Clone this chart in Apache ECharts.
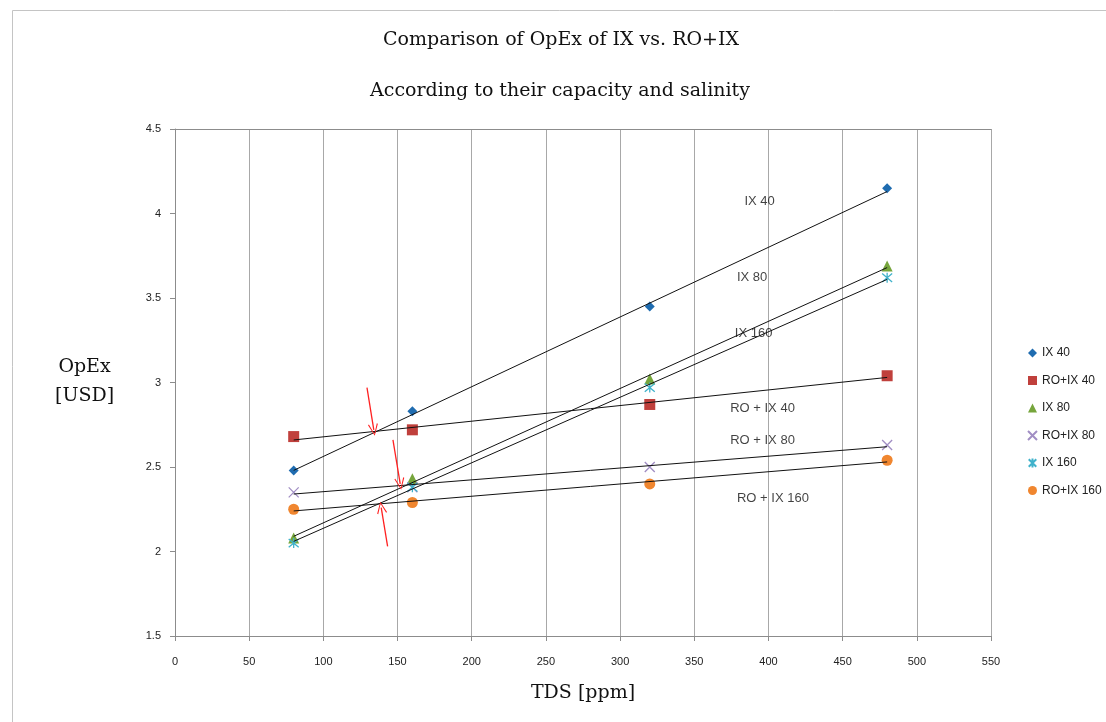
<!DOCTYPE html>
<html>
<head>
<meta charset="utf-8">
<script src="https://cdn.jsdelivr.net/npm/echarts@6/dist/echarts.min.js"></script>
<style>
  html, body { margin: 0; padding: 0; background: #ffffff; }
  #chart { width: 1106px; height: 722px; }
</style>
</head>
<body>
<div id="chart"></div>
<script>
// ---- data ----
const tds = [80, 160, 320, 480];
const ix40    = [2.48, 2.83, 3.45, 4.15];
const roix40  = [2.68, 2.72, 2.87, 3.04];
const ix80    = [2.08, 2.43, 3.02, 3.69];
const roix80  = [2.35, 2.38, 2.50, 2.63];
const ix160   = [2.05, 2.38, 2.97, 3.62];
const roix160 = [2.25, 2.29, 2.40, 2.54];

// trend lines (linear) – start/end values read at x = 80 and x = 480
const trendX = [80, 480];
const trendIx40    = [2.48, 4.13];
const trendRoix40  = [2.66, 3.03];
const trendIx80    = [2.09, 3.68];
const trendRoix80  = [2.34, 2.62];
const trendIx160   = [2.06, 3.61];
const trendRoix160 = [2.24, 2.53];

// in-plot text labels (data coordinates)
const noteText = ['IX 40', 'IX 80', 'IX 160', 'RO + IX 40', 'RO + IX 80', 'RO + IX 160'];
const noteX    = [394, 389, 390, 396, 396, 403];
const noteY    = [4.07, 3.62, 3.29, 2.845, 2.66, 2.317];

// red arrows (data coordinates, start -> end)
const arrowFrom = [[129.4, 2.97], [146.9, 2.66], [143.3, 2.03]];
const arrowTo   = [[134.0, 2.72], [151.8, 2.40], [139.0, 2.26]];

const xTicks = { min: 0, max: 550, interval: 50 };
const yTicks = { min: 1.5, max: 4.5, interval: 0.5 };

const names = ['IX 40', 'RO+IX 40', 'IX 80', 'RO+IX 80', 'IX 160', 'RO+IX 160'];
const values = [ix40, roix40, ix80, roix80, ix160, roix160];
const trends = [trendIx40, trendRoix40, trendIx80, trendRoix80, trendIx160, trendRoix160];

const colors = ['#1f6cb0', '#c0403c', '#76a53c', '#a18ec4', '#40b2cb', '#f0862f'];
const symbols = [
  'diamond', 'rect', 'triangle',
  'path://M0,0L10,10M10,0L0,10',
  'path://M0,0L10,10M10,0L0,10M5,-1L5,11',
  'circle'
];
const sizes = [10, 11, 11, 10, 10, 11];
const strokeOnly = [false, false, false, true, true, false];

const tickFont = { fontFamily: 'Liberation Sans', fontSize: 11, color: '#222' };

const series = [];
names.forEach((n, i) => {
  series.push({
    name: n,
    type: 'scatter',
    symbol: symbols[i],
    symbolSize: sizes[i],
    data: tds.map((x, k) => [x, values[i][k]]),
    itemStyle: strokeOnly[i]
      ? { color: colors[i], borderColor: colors[i], borderWidth: 1.3, opacity: 1 }
      : { color: colors[i], opacity: 1 },
    z: 2
  });
});
trends.forEach((t, i) => {
  series.push({
    name: 'trend ' + names[i],
    type: 'line',
    symbol: 'none',
    silent: true,
    data: trendX.map((x, k) => [x, t[k]]),
    lineStyle: { color: '#111', width: 1 },
    z: 3
  });
});
series.push({
  name: 'notes',
  type: 'scatter',
  symbolSize: 0,
  silent: true,
  data: noteText.map((t, i) => [noteX[i], noteY[i], t]),
  label: {
    show: true,
    position: 'inside',
    formatter: p => p.data[2],
    fontFamily: 'Liberation Sans',
    fontSize: 13,
    color: '#111'
  },
  z: 4
});
series.push({
  name: 'arrows',
  type: 'line',
  data: [],
  silent: true,
  markLine: {
    silent: true,
    symbol: ['none', 'path://M0,10L5,0L10,10L9,10.5L5,1.8L1,10.5Z'],
    symbolSize: [10, 12],
    label: { show: false },
    lineStyle: { color: '#ff2020', width: 1.3, type: 'solid' },
    data: arrowFrom.map((a, i) => [{ coord: a }, { coord: arrowTo[i] }])
  },
  z: 5
});

const chart = echarts.init(document.getElementById('chart'), null, { renderer: 'canvas' });
chart.setOption({
  backgroundColor: '#ffffff',
  animation: false,
  title: [
    { text: 'Comparison of OpEx of IX vs. RO+IX', left: 556, top: 26, textAlign: 'center',
      textStyle: { fontFamily: 'DejaVu Serif', fontSize: 19, fontWeight: 'normal', color: '#111' } },
    { text: 'According to their capacity and salinity', left: 555, top: 77, textAlign: 'center',
      textStyle: { fontFamily: 'DejaVu Serif', fontSize: 19, fontWeight: 'normal', color: '#111' } }
  ],
  graphic: [
    { type: 'rect', shape: { x: 12.5, y: 10.5, width: 1110, height: 730 },
      style: { fill: 'none', stroke: '#c4c4c4', lineWidth: 1 }, silent: true },
    { type: 'text', left: 55, top: 353,
      style: { text: 'OpEx\n[USD]', fontFamily: 'DejaVu Serif', fontSize: 19, lineHeight: 29,
               textAlign: 'center', fill: '#111' } }
  ],
  legend: {
    data: names,
    orient: 'vertical',
    left: 1022,
    top: 342,
    itemWidth: 9,
    itemHeight: 9,
    itemGap: 15.5,
    textStyle: { fontFamily: 'Liberation Sans', fontSize: 12, color: '#222' }
  },
  grid: { left: 175, top: 129, width: 816, height: 507, containLabel: false },
  xAxis: [{
    type: 'value',
    min: xTicks.min, max: xTicks.max, interval: xTicks.interval,
    name: 'TDS [ppm]',
    nameLocation: 'middle',
    nameGap: 48,
    nameTextStyle: { fontFamily: 'DejaVu Serif', fontSize: 19, color: '#111' },
    axisLine: { show: true, lineStyle: { color: '#8c8c8c' } },
    axisTick: { show: true, length: 5, lineStyle: { color: '#8c8c8c' } },
    axisLabel: Object.assign({ margin: 20 }, tickFont),
    splitLine: { show: true, lineStyle: { color: '#a8a8a8', width: 1 } }
  }, {
    type: 'value',
    position: 'top',
    min: xTicks.min, max: xTicks.max,
    axisLine: { show: true, lineStyle: { color: '#8c8c8c' } },
    axisTick: { show: false },
    axisLabel: { show: false },
    splitLine: { show: false }
  }],
  yAxis: {
    type: 'value',
    min: yTicks.min, max: yTicks.max, interval: yTicks.interval,
    axisLine: { show: true, lineStyle: { color: '#8c8c8c' } },
    axisTick: { show: true, length: 5, lineStyle: { color: '#8c8c8c' } },
    axisLabel: Object.assign({ margin: 14 }, tickFont),
    splitLine: { show: false }
  },
  series: series
});
</script>
</body>
</html>
